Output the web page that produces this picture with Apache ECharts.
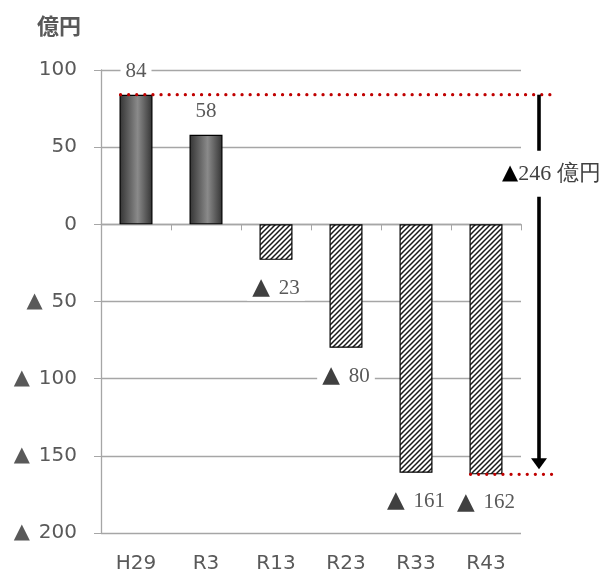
<!DOCTYPE html>
<html><head><meta charset="utf-8">
<script src="https://cdn.jsdelivr.net/npm/echarts@6/dist/echarts.min.js"></script>
<style>html,body{margin:0;padding:0;background:#fff}#c{width:604px;height:574px}</style>
</head><body><div id="c"></div>
<script>
const categories = ['H29','R3','R13','R23','R33','R43'];
const values = [84, 58, -23, -80, -161, -162];
const yTicks = {min: -200, max: 100, interval: 50};
const unitLabel = '億円';
const diffLabel = '▲246 億円';
const topRef = 84, bottomRef = -162;

function hatch() {
  const s = 5;
  const c = document.createElement('canvas');
  c.width = s; c.height = s;
  const g = c.getContext('2d');
  g.fillStyle = '#fff'; g.fillRect(0,0,s,s);
  g.strokeStyle = '#1a1a1a'; g.lineWidth = 1.5;
  g.beginPath();
  for (let k = -s; k <= 2*s; k += s) { g.moveTo(k - 1, s + 1); g.lineTo(k + s + 1, -1); }
  g.stroke();
  return c;
}
const hatchImg = hatch();
const darkGrad = {type:'linear',x:0,y:0,x2:1,y2:0,colorStops:[
  {offset:0,color:'#333'},{offset:0.55,color:'#8a8a8a'},{offset:1,color:'#333'}]};

const grey = '#595959', lineGrey = '#a6a6a6';
const chart = echarts.init(document.getElementById('c'), null, {renderer:'canvas'});
const option = {
  animation:false,
  grid:{left:101, right:83, top:70, bottom:40},
  xAxis:[{
    type:'category', data:categories,
    axisLine:{onZero:true, lineStyle:{color:lineGrey, width:1.3}},
    axisTick:{show:true, alignWithLabel:false, length:6, lineStyle:{color:lineGrey}},
    axisLabel:{show:false}
  },{
    type:'category', data:categories, position:'bottom',
    axisLine:{show:false, onZero:false}, axisTick:{show:false},
    axisLabel:{margin:21, color:grey, fontSize:20, fontFamily:'DejaVu Sans'}
  }],
  yAxis:{
    type:'value', min:yTicks.min, max:yTicks.max, interval:yTicks.interval,
    axisLine:{show:true, lineStyle:{color:lineGrey, width:1.3}},
    axisTick:{show:true, length:7, lineStyle:{color:lineGrey}},
    splitLine:{lineStyle:{color:lineGrey, width:1.3}},
    axisLabel:{margin:24, color:grey, fontSize:20, fontFamily:'DejaVu Sans',
      formatter:v => v < 0 ? '{t|▲}{n|' + (-v) + '}' : '{n|' + v + '}',
      rich:{t:{fontSize:21, color:grey, fontFamily:'DejaVu Sans', padding:[0,9,0,0]},
            n:{fontSize:20, color:grey, fontFamily:'DejaVu Sans'}}}
  },
  series:[{
    type:'bar', barWidth:33,
    data: values.map(v => ({value:v, itemStyle:{color: v >= 0 ? darkGrad : {image:hatchImg, repeat:'repeat'}}})),
    itemStyle:{borderColor:'#000', borderWidth:1.2},
    label:{show:true, distance:12,
      position: 'top',
      backgroundColor:'#fff', padding:[1,5],
      color:grey, fontSize:21, fontFamily:'Liberation Serif',
      formatter:p => p.value < 0 ? '{t|▲}{n|' + (-p.value) + '}' : '{n|' + p.value + '}',
      rich:{t:{fontSize:23, color:'#404040', fontFamily:'DejaVu Sans', padding:[0,9,0,0]},
            n:{fontSize:21, color:grey, fontFamily:'Liberation Serif'}}}
  }]
};
option.series[0].data.forEach(d => { if (d.value < 0) d.label = {position:'bottom', distance:16}; });
chart.setOption(option);

function draw() {
  const yTop = chart.convertToPixel({yAxisIndex:0}, topRef);
  const yBot = chart.convertToPixel({yAxisIndex:0}, bottomRef);
  const x0 = chart.convertToPixel({xAxisIndex:0}, categories[0]) - 16.5;
  const xLast = chart.convertToPixel({xAxisIndex:0}, categories[categories.length-1]) - 16.5;
  const gridRight = chart.convertToPixel({xAxisIndex:0}, categories[categories.length-1]) + 35;
  const ax = gridRight + 18;
  const yMid = (chart.convertToPixel({yAxisIndex:0}, 50) + chart.convertToPixel({yAxisIndex:0}, 0)) / 2 - 12;
  const dot = {stroke:'#c00000', lineWidth:3.2, lineDash:[0.1,8], lineCap:'round'};
  chart.setOption({graphic:[
    {type:'text', left:37, top:15, style:{text:unitLabel, fill:grey, font:'bold 22px "Noto Sans CJK JP"'}},
    {type:'line', z:100, shape:{x1:x0+1, y1:yTop, x2:ax+13, y2:yTop}, style:dot},
    {type:'line', z:100, shape:{x1:xLast+1, y1:yBot, x2:ax+17, y2:yBot}, style:dot},
    {type:'line', z:100, shape:{x1:ax, y1:yTop, x2:ax, y2:yMid-23}, style:{stroke:'#000', lineWidth:3.6}},
    {type:'line', z:100, shape:{x1:ax, y1:yMid+23, x2:ax, y2:yBot-14}, style:{stroke:'#000', lineWidth:3.6}},
    {type:'polygon', z:100, shape:{points:[[ax-8,yBot-16],[ax+8,yBot-16],[ax,yBot-5]]}, style:{fill:'#000'}},
    {type:'text', z:100, x:ax-37, y:yMid, style:{
      text:'{t|▲}{n|' + diffLabel.slice(1) + '}', align:'left', verticalAlign:'middle',
      rich:{t:{fill:'#000', fontSize:21, fontFamily:'DejaVu Sans'},
            n:{fill:'#404040', fontSize:22, fontFamily:'Liberation Serif'}}}}
  ]});
}
draw();
</script></body></html>
